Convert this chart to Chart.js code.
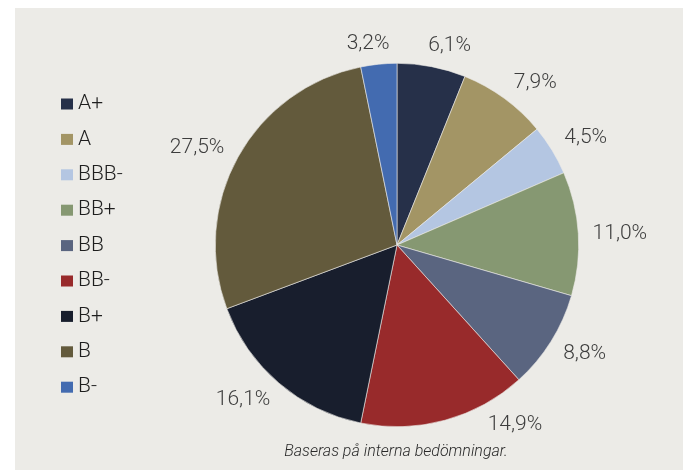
<!DOCTYPE html>
<html>
<head>
<meta charset="utf-8">
<script src="https://cdn.jsdelivr.net/npm/chart.js@4.4.1/dist/chart.umd.min.js"></script>
<style>
  html, body { margin: 0; padding: 0; background: #ffffff; }
  #panel { position: absolute; left: 15px; top: 8px; width: 668px; height: 462px; background: #ECEBE7; }
  #wrap { position: absolute; left: 0; top: 0; width: 684px; height: 470px; }
</style>
</head>
<body>
<div id="panel"></div>
<div id="wrap"><canvas id="c" width="684" height="470"></canvas></div>
<script>
const categories = ["A+", "A", "BBB-", "BB+", "BB", "BB-", "B+", "B", "B-"];
const shares = [6.1, 7.9, 4.5, 11.0, 8.8, 14.9, 16.1, 27.5, 3.2];
const valueLabels = ["6,1%", "7,9%", "4,5%", "11,0%", "8,8%", "14,9%", "16,1%", "27,5%", "3,2%"];
const colors = ["#263049", "#A39565", "#B4C6E2", "#869872", "#5A6580", "#982A2B", "#181E2D", "#635A3C", "#436BB0"];
const caption = "Baseras på interna bedömningar.";
// small angular nudges (degrees) mimicking the original label placement
const labelNudgeDeg = [3.8, 4.2, 2, 0.6, -2, -18, 4.3, -3, -2.4];

const labelFont = "300 21px Roboto, 'Liberation Sans', sans-serif";
const legendFont = "300 21px Roboto, 'Liberation Sans', sans-serif";
const captionFont = "italic 300 16px Roboto, 'Liberation Sans', sans-serif";

const decorPlugin = {
  id: 'decor',
  afterDatasetsDraw(chart) {
    const ctx = chart.ctx;
    const meta = chart.getDatasetMeta(0);
    ctx.save();
    // outside value labels
    ctx.font = labelFont;
    ctx.fillStyle = '#3d3d3d';
    ctx.textAlign = 'center';
    ctx.textBaseline = 'middle';
    const gap = 14;
    meta.data.forEach((arc, i) => {
      const p = arc.getProps(['x', 'y', 'startAngle', 'endAngle', 'outerRadius'], true);
      const mid = (p.startAngle + p.endAngle) / 2 + labelNudgeDeg[i] * Math.PI / 180;
      const txt = valueLabels[i];
      const w = ctx.measureText(txt).width;
      const h = 10;
      const c = Math.cos(mid), s = Math.sin(mid);
      const d = p.outerRadius + gap + Math.abs(c) * w / 2 + Math.abs(s) * h / 2;
      ctx.fillText(txt, p.x + c * d, p.y + s * d);
    });
    // legend
    ctx.font = legendFont;
    ctx.textAlign = 'left';
    const lx = 61, ly0 = 104, step = 35.4;
    chart.data.labels.forEach((lab, i) => {
      const y = ly0 + i * step;
      ctx.fillStyle = chart.data.datasets[0].backgroundColor[i];
      ctx.fillRect(lx, y - 5.5, 12, 11);
      ctx.fillStyle = '#1e1e1e';
      ctx.fillText(lab, lx + 17, y);
    });
    // caption
    ctx.font = captionFont;
    ctx.fillStyle = '#2a2a2a';
    ctx.textAlign = 'center';
    ctx.fillText(caption, 396, 452);
    ctx.restore();
  }
};

new Chart(document.getElementById('c'), {
  type: 'pie',
  data: {
    labels: categories,
    datasets: [{
      data: shares,
      backgroundColor: colors,
      borderColor: '#ECEBE7',
      borderWidth: 0.6
    }]
  },
  options: {
    responsive: false,
    animation: false,
    layout: { padding: { left: 215, right: 105, top: 63, bottom: 43 } },
    plugins: {
      legend: { display: false },
      tooltip: { enabled: false }
    }
  },
  plugins: [decorPlugin]
});
</script>
</body>
</html>
